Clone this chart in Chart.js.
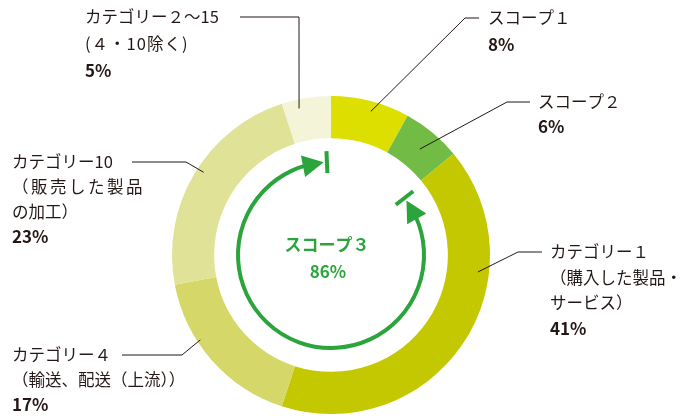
<!DOCTYPE html>
<html><head><meta charset="utf-8">
<script src="https://cdn.jsdelivr.net/npm/chart.js@4.4.0/dist/chart.umd.min.js"></script>
<style>html,body{margin:0;padding:0;background:#fff;}canvas{display:block;}</style>
</head><body>
<canvas id="c" width="696" height="418"></canvas>
<script>
// ---- data ----
const categories = ['スコープ１', 'スコープ２', 'カテゴリー１', 'カテゴリー４', 'カテゴリー10', 'カテゴリー２〜15'];
const labelLines = [
  ['スコープ１'],
  ['スコープ２'],
  ['カテゴリー１', '（購入した製品・', 'サービス）'],
  ['カテゴリー４', '（輸送、配送（上流））'],
  ['カテゴリー10', '（販売した製品', 'の加工）'],
  ['カテゴリー２〜15', '(４・10除く)']
];
const values = [8, 6, 41, 17, 23, 5];
const percentLabels = ['8%', '6%', '41%', '17%', '23%', '5%'];
const centerTitle = 'スコープ３';
const centerValue = '86%';
const scope3FirstIndex = 2;

// ---- styles / layout ----
const colors = ['#dcdf00', '#72bb45', '#c4c800', '#d5d768', '#e0e298', '#f3f4d8'];
const accent = '#2ba43c';
const textColor = '#231815';
// per label: text x, first line y, line spacing, horizontal line start x, elbow x, anchor angle (deg, clockwise from top), anchor radius (fraction of outer)
const labelLayout = [
  {tx: 488, ty: 18, lh: 27, hx: 479, ex: 465, ang: 15.5, rf: 0.937},
  {tx: 538, ty: 102, lh: 25, hx: 530, ex: 507, ang: 40, rf: 0.87},
  {tx: 550, ty: 252, lh: 25.5, hx: 542, ex: 518, ang: 96.6, rf: 0.93},
  {tx: 12, ty: 355, lh: 25, hx: 122, ex: 182, ang: 237, rf: 0.98},
  {tx: 12, ty: 162, lh: 25, hx: 132, ex: 186, ang: 303, rf: 0.955, spacing: {1: '2.5px'}},
  {tx: 85, ty: 17, lh: 27, hx: 240, ex: 299, ang: 347.7, rf: 0.943, spacing: {1: '1px'}}
];

const overlay = {
  id: 'overlay',
  afterDraw(chart) {
    const ctx = chart.ctx;
    const meta = chart.getDatasetMeta(0);
    const a0 = meta.data[0];
    const cx = a0.x, cy = a0.y, R = a0.outerRadius;
    const P = (deg, r) => [cx + r * Math.sin(deg * Math.PI / 180), cy - r * Math.cos(deg * Math.PI / 180)];

    // labels + leader lines
    ctx.save();
    ctx.textBaseline = 'middle';
    ctx.textAlign = 'left';
    labelLayout.forEach((L, i) => {
      const [ax, ay] = P(L.ang, R * L.rf);
      ctx.strokeStyle = textColor;
      ctx.lineWidth = 1;
      ctx.beginPath();
      ctx.moveTo(L.hx, L.ty);
      ctx.lineTo(L.ex, L.ty);
      ctx.lineTo(ax, ay);
      ctx.stroke();
      ctx.fillStyle = textColor;
      const lines = labelLines[i];
      lines.forEach((t, k) => {
        ctx.font = '16.5px "Noto Sans CJK JP", "Noto Sans", sans-serif';
        ctx.letterSpacing = (L.spacing && L.spacing[k]) || '0px';
        ctx.fillText(t, L.tx, L.ty + k * L.lh);
      });
      ctx.letterSpacing = '0px';
      ctx.font = 'bold 17px "Noto Sans CJK JP", "Noto Sans", sans-serif';
      ctx.fillText(percentLabels[i], L.tx, L.ty + lines.length * L.lh);
    });
    ctx.restore();

    // scope 3 arrow
    const total = values.reduce((s, v) => s + v, 0);
    const startDeg = values.slice(0, scope3FirstIndex).reduce((s, v) => s + v, 0) / total * 360;
    const endDeg = 360;
    const r = R * 0.585;
    const barGap = 1.8, tipGap = 2, headLen = 13, headW = 22, barLen = 22;
    const rightBar = startDeg + barGap, topBar = endDeg - 2.5;
    const rightTip = rightBar + tipGap, rightBase = rightTip + headLen;
    const topTip = topBar - tipGap, topBase = topTip - headLen;
    ctx.save();
    ctx.strokeStyle = accent;
    ctx.fillStyle = accent;
    ctx.lineWidth = 4;
    ctx.beginPath();
    ctx.arc(cx, cy, r, (rightBase - 2 - 90) * Math.PI / 180, (topBase + 2 - 90) * Math.PI / 180, false);
    ctx.stroke();
    const head = (tipDeg, baseDeg) => {
      const [tx, ty] = P(tipDeg, r);
      const [bx, by] = P(baseDeg, r);
      let dx = tx - bx, dy = ty - by;
      const len = Math.hypot(dx, dy);
      dx /= len; dy /= len;
      const nx = -dy, ny = dx;
      ctx.beginPath();
      ctx.moveTo(tx, ty);
      ctx.lineTo(bx + nx * headW / 2, by + ny * headW / 2);
      ctx.lineTo(bx - nx * headW / 2, by - ny * headW / 2);
      ctx.closePath();
      ctx.fill();
    };
    head(topTip, topBase);
    head(rightTip, rightBase);
    const bar = (deg) => {
      const [x1, y1] = P(deg, r - barLen / 2);
      const [x2, y2] = P(deg, r + barLen / 2);
      ctx.beginPath();
      ctx.moveTo(x1, y1);
      ctx.lineTo(x2, y2);
      ctx.stroke();
    };
    bar(topBar);
    bar(rightBar);

    // center text
    ctx.textAlign = 'center';
    ctx.textBaseline = 'middle';
    ctx.font = 'bold 17px "Noto Sans CJK JP", "Noto Sans", sans-serif';
    ctx.fillText(centerTitle, cx - 4, cy - 10);
    ctx.fillText(centerValue, cx - 3, cy + 17);
    ctx.restore();
  }
};

new Chart(document.getElementById('c'), {
  type: 'doughnut',
  data: {
    labels: categories,
    datasets: [{
      data: values,
      backgroundColor: colors,
      borderWidth: 0
    }]
  },
  options: {
    responsive: false,
    animation: false,
    cutout: '73.5%',
    layout: {padding: {left: 172, right: 206, top: 96, bottom: 4}},
    plugins: {legend: {display: false}, tooltip: {enabled: false}}
  },
  plugins: [overlay]
});
</script>
</body></html>
